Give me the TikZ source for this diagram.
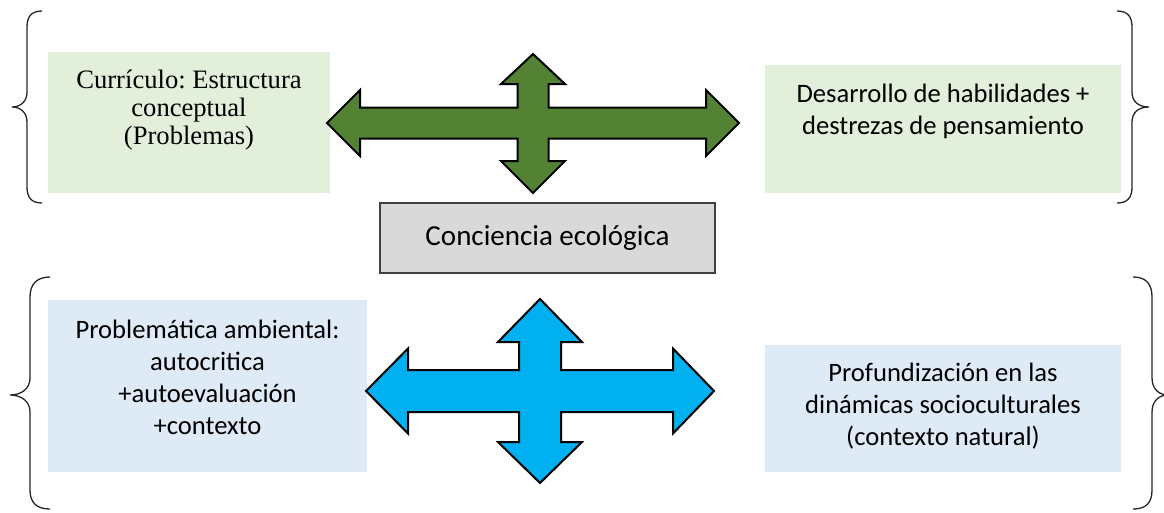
\documentclass[tikz,border=0pt]{standalone}
\usepackage{fontspec}
\setmainfont{Liberation Serif}
\newfontfamily\calibri{Carlito}
\usetikzlibrary{positioning}
\definecolor{greenbox}{HTML}{E2EFDA}
\definecolor{bluebox}{HTML}{DEEBF7}
\definecolor{graybox}{HTML}{D9D9D9}
\definecolor{greenarrow}{HTML}{548235}
\definecolor{bluearrow}{HTML}{00B0F0}
\newlength\unitpx
\setlength\unitpx{0.4135pt}
\frenchspacing

\begin{document}
\begin{tikzpicture}[x=1\unitpx, y=-1\unitpx,
  panel/.style={draw=none, inner sep=0pt},
  gpanel/.style={panel, fill=greenbox},
  bpanel/.style={panel, fill=bluebox},
  txt/.style={inner sep=0pt, align=center},
  sans/.style={txt, font=\calibri\fontsize{11}{13.2}\selectfont},
  serif/.style={txt, font=\fontsize{11}{11.6}\selectfont},
  cross/.style={draw=black, line width=2\unitpx, line join=miter},
  brace/.style={draw=black!85, line width=1.3\unitpx},
]
\useasboundingbox (0,0) rectangle (1164,512);

% boxes
\node[gpanel, minimum width=282\unitpx, minimum height=141\unitpx] (cur) at (189,122.5) {};
\node[gpanel, minimum width=356\unitpx, minimum height=128\unitpx] (hab) at (943,129) {};
\node[bpanel, minimum width=319\unitpx, minimum height=172\unitpx] (amb) at (207.5,386) {};
\node[bpanel, minimum width=356\unitpx, minimum height=127\unitpx] (pro) at (943,408.5) {};
\node[draw=black!75, line width=1.3\unitpx, fill=graybox, minimum width=335\unitpx, minimum height=70\unitpx,
  font=\calibri\fontsize{12}{14.4}\selectfont] (eco) at (547.5,238) {Conciencia ecológica};

% texts
\node[serif, below=18\unitpx of cur.north] (cur-t) {Currículo: Estructura\\conceptual\\(Problemas)};
\node[sans, below=19\unitpx of hab.north] (hab-t) {Desarrollo de habilidades +\\destrezas de pensamiento};
\node[sans, below=20\unitpx of amb.north] (amb-t) {Problemática ambiental:\\autocritica\\+autoevaluación\\+contexto};
\node[sans, below=18\unitpx of pro.north] (pro-t) {Profundización en las\\dinámicas socioculturales\\(contexto natural)};

% four-way arrows
\draw[cross, fill=greenarrow, shift={(533,123)}]
  (-206,0) -- (-173,-33) -- (-173,-15.5) -- (-15.5,-15.5) -- (-15.5,-39) -- (-32,-39) -- (0,-69)
  -- (32,-39) -- (15.5,-39) -- (15.5,-15.5) -- (173,-15.5) -- (173,-33) -- (206,0)
  -- (173,33) -- (173,15.5) -- (15.5,15.5) -- (15.5,38) -- (32,38) -- (0,70)
  -- (-32,38) -- (-15.5,38) -- (-15.5,15.5) -- (-173,15.5) -- (-173,33) -- cycle;
\draw[cross, fill=bluearrow, shift={(540,391)}]
  (-174,0) -- (-132,-42.5) -- (-132,-21) -- (-21,-21) -- (-21,-49) -- (-42,-49) -- (0,-92)
  -- (42,-49) -- (21,-49) -- (21,-21) -- (133,-21) -- (133,-42.5) -- (174,0)
  -- (133,42.5) -- (133,21) -- (21,21) -- (21,51) -- (42,51) -- (0,92)
  -- (-42,51) -- (-21,51) -- (-21,21) -- (-132,21) -- (-132,42.5) -- cycle;

% braces
\draw[brace] (42,11) .. controls (31,11) and (27,17) .. (27,27) -- (27,92)
  .. controls (27,102) and (20,107) .. (12,107) .. controls (20,107) and (27,112) .. (27,122)
  -- (27,187) .. controls (27,197) and (31,203) .. (42,203);
\draw[brace] (1117,11) .. controls (1128,11) and (1132,17) .. (1132,27) -- (1132,92)
  .. controls (1132,102) and (1139,107) .. (1149,107) .. controls (1139,107) and (1132,112) .. (1132,122)
  -- (1132,187) .. controls (1132,197) and (1128,203) .. (1117,203);
\draw[brace] (50,277) .. controls (37,277) and (30,284) .. (30,297) -- (30,378)
  .. controls (30,389) and (21,395) .. (10,395) .. controls (21,395) and (30,401) .. (30,412)
  -- (30,490) .. controls (30,503) and (37,509) .. (50,509);
\draw[brace] (1133,277) .. controls (1146,277) and (1152,284) .. (1152,297) -- (1152,378)
  .. controls (1152,389) and (1159,395) .. (1168,395) .. controls (1159,395) and (1152,401) .. (1152,412)
  -- (1152,490) .. controls (1152,503) and (1146,509) .. (1133,509);
\end{tikzpicture}
\end{document}
